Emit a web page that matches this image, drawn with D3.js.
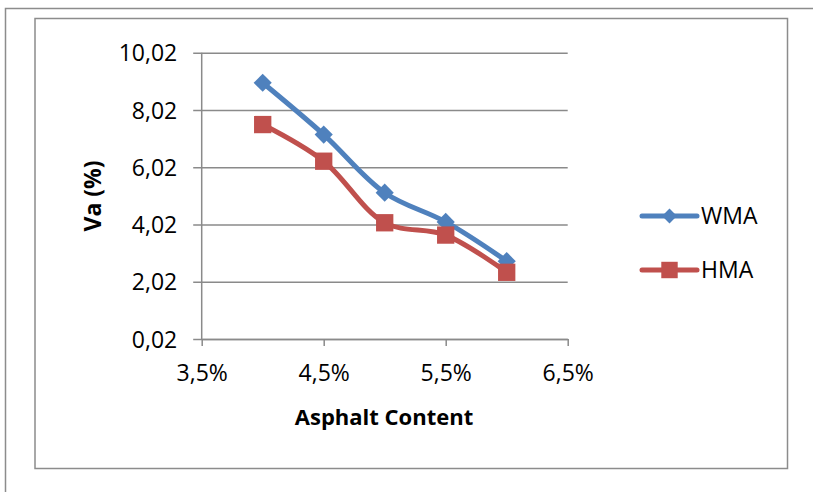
<!DOCTYPE html>
<html>
<head>
<meta charset="utf-8">
<script src="https://cdn.jsdelivr.net/npm/d3@7"></script>
<style>
  body { margin: 0; background: #fff; }
  svg text { font-family: "Open Sans", sans-serif; fill: #000; }
</style>
</head>
<body>
<div id="chart"></div>
<script>
// data
var asphalt = [4.0, 4.5, 5.0, 5.5, 6.0];
var wma = [8.97, 7.16, 5.13, 4.11, 2.74];
var hma = [7.51, 6.23, 4.08, 3.65, 2.35];
var yTicks = [0.02, 2.02, 4.02, 6.02, 8.02, 10.02];
var xTicks = [3.5, 4.5, 5.5, 6.5];
var seriesNames = ["WMA", "HMA"];
var seriesColors = ["#4F81BD", "#C0504D"];

var W = 813, H = 492;
var margin = { top: 52.7, right: 813 - 567.7, bottom: 492 - 339, left: 201.7 };
var width = W - margin.left - margin.right;
var height = H - margin.top - margin.bottom;

var svg = d3.select("#chart").append("svg")
    .attr("width", W)
    .attr("height", H)

// frames
svg.append("path")
    .attr("d", "M5.5,492 V8.5 H813")
    .attr("fill", "none")
    .attr("stroke", "#8c8c8c")
    .attr("stroke-width", 1.5)
svg.append("rect")
    .attr("x", 35).attr("y", 18.5)
    .attr("width", 752.5).attr("height", 450)
    .attr("fill", "none")
    .attr("stroke", "#8c8c8c")
    .attr("stroke-width", 1.5)

var g = svg.append("g")
    .attr("transform", "translate(" + margin.left + "," + margin.top + ")")

var x = d3.scaleLinear().domain([3.5, 6.5]).range([0, width]);
var y = d3.scaleLinear().domain([0.02, 10.02]).range([height, 0]);

// gridlines + y axis
var yAxisCall = d3.axisLeft(y)
    .tickValues(yTicks)
    .tickSize(-(width + 8.5))
    .tickPadding(16)
    .tickFormat(function (d) { return d.toFixed(2).replace(".", ","); });
var yAx = g.append("g")
    .attr("class", "y-axis")
    .attr("transform", "translate(-8.5,0)")
    .call(yAxisCall)
yAx.select(".domain").remove()
yAx.selectAll("line").attr("stroke", "#8a8a8a").attr("stroke-width", 1.5)
yAx.selectAll("text").style("font-size", "23px").attr("dy", "0.35em")

g.append("line")
    .attr("x1", 0).attr("x2", 0)
    .attr("y1", 0).attr("y2", height)
    .attr("stroke", "#8a8a8a").attr("stroke-width", 1.5)

// x axis
var xAxisCall = d3.axisBottom(x)
    .tickValues(xTicks)
    .tickSize(7)
    .tickSizeOuter(0)
    .tickPadding(19)
    .tickFormat(function (d) { return d.toFixed(1).replace(".", ",") + "%"; });
var xAx = g.append("g")
    .attr("class", "x-axis")
    .attr("transform", "translate(0," + height + ")")
    .call(xAxisCall)
xAx.select(".domain").attr("stroke", "#8a8a8a").attr("stroke-width", 1.5)
xAx.selectAll("line").attr("stroke", "#8a8a8a").attr("stroke-width", 1.5)
xAx.selectAll("text").style("font-size", "23px")

// axis titles
svg.append("text")
    .attr("x", 384)
    .attr("y", 425)
    .attr("text-anchor", "middle")
    .style("font-size", "22px")
    .style("font-weight", "bold")
    .text("Asphalt Content")

svg.append("text")
    .attr("transform", "translate(101,196) rotate(-90)")
    .attr("text-anchor", "middle")
    .style("font-size", "23px")
    .style("font-weight", "bold")
    .text("Va (%)")

// lines
var series = [wma, hma];
var valueline = d3.line()
    .x(function (d, i) { return x(asphalt[i]); })
    .y(function (d) { return y(d); })
    .curve(d3.curveCatmullRom)

var diamond = d3.symbol().type(d3.symbolSquare).size(165);
var square = d3.symbol().type(d3.symbolSquare).size(300);

series.forEach(function (s, k) {
    g.append("path")
        .datum(s)
        .attr("d", valueline)
        .attr("fill", "none")
        .attr("stroke", seriesColors[k])
        .attr("stroke-width", 5)
        .attr("stroke-linejoin", "round")

    g.selectAll(".m" + k)
        .data(s)
        .enter().append("path")
        .attr("class", "m" + k)
        .attr("d", k == 0 ? diamond : square)
        .attr("transform", function (d, i) {
            return "translate(" + x(asphalt[i]) + "," + y(d) + ")" + (k == 0 ? " rotate(45)" : "");
        })
        .attr("fill", seriesColors[k])
})

// legend
var legend = svg.append("g").attr("transform", "translate(642,216)")
seriesNames.forEach(function (name, k) {
    var lg = legend.append("g").attr("transform", "translate(0," + (k * 54) + ")")
    lg.append("line")
        .attr("x1", 0).attr("x2", 55)
        .attr("stroke", seriesColors[k])
        .attr("stroke-width", 5)
        .attr("stroke-linecap", "round")
    lg.append("path")
        .attr("d", k == 0 ? d3.symbol().type(d3.symbolSquare).size(110)() : d3.symbol().type(d3.symbolSquare).size(270)())
        .attr("transform", "translate(27.5,0)" + (k == 0 ? " rotate(45)" : ""))
        .attr("fill", seriesColors[k])
    lg.append("text")
        .attr("x", 59)
        .attr("dy", "0.35em")
        .style("font-size", "23px")
        .text(name)
})
</script>
</body>
</html>
